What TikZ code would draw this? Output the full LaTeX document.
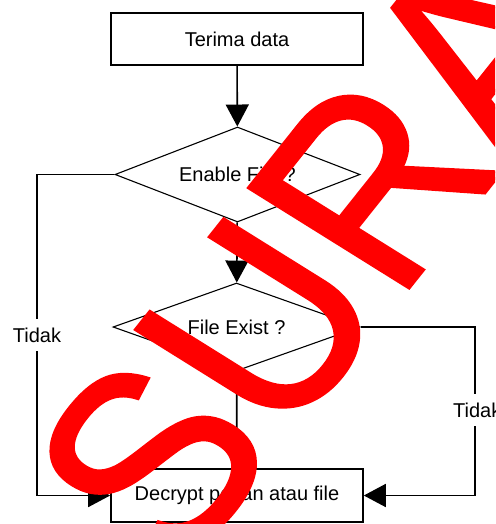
\documentclass[tikz,border=0pt]{standalone}
\usepackage{fontspec}
\setmainfont{Liberation Sans}
\newfontfamily\wmfont[FakeBold=1.2]{Liberation Sans}
\usetikzlibrary{arrows.meta,shapes.geometric}
\begin{document}
\begin{tikzpicture}[x=1pt,y=-1pt,
  procbox/.style={draw,line width=1.6pt,minimum width=252pt,minimum height=52pt,inner sep=0pt,font=\fontsize{20}{24}\selectfont},
  decision/.style={draw,diamond,line width=1.1pt,inner sep=0pt,font=\fontsize{20}{24}\selectfont},
  conn/.style={line width=1.6pt},
  arrowconn/.style={conn,-{Triangle[length=22pt,width=23pt]}},
  lbl/.style={fill=white,inner xsep=1pt,inner ysep=9pt,font=\fontsize{20}{24}\selectfont},
  wmark/.style={text=red,inner sep=0pt,font=\wmfont\fontsize{255}{255}\selectfont}
]
\useasboundingbox (0,0) rectangle (495,524);
\fill[white] (0,0) rectangle (495,524);
\node[procbox] (recv) at (237,39) {Terima data};
\node[decision,aspect=2.58,minimum width=245pt,minimum height=95pt] (enable) at (237.5,174.5) {Enable File ?};
\node[decision,aspect=2.8,minimum width=247pt,minimum height=88pt] (exist) at (236.5,327) {File Exist ?};
\node[procbox,minimum height=53pt] (decrypt) at (237,495.5) {Decrypt pesan atau file};
\coordinate (lx) at (37,335);
\coordinate (rx) at (475,410);
\draw[arrowconn] (recv) -- (enable);
\draw[arrowconn] (enable) -- (exist);
\draw[arrowconn] (exist) -- (decrypt);
\draw[conn] (enable.west) -| (lx);
\draw[arrowconn] (lx) |- (decrypt.west);
\draw[conn] (exist.east) -| (rx);
\draw[arrowconn] (rx) |- (decrypt.east);
\node[lbl] (no1) at (lx) {Tidak};
\node[lbl,anchor=west,xshift=-23pt] (no2) at (rx) {Tidak};
\begin{scope}
\clip (0,0) rectangle (495,524);
\node[wmark,cm={0.61,0.765,-0.914,0.57,(0,0)},anchor=base west] (wm) at (180,575) {SURAT};
\end{scope}
\end{tikzpicture}
\end{document}
